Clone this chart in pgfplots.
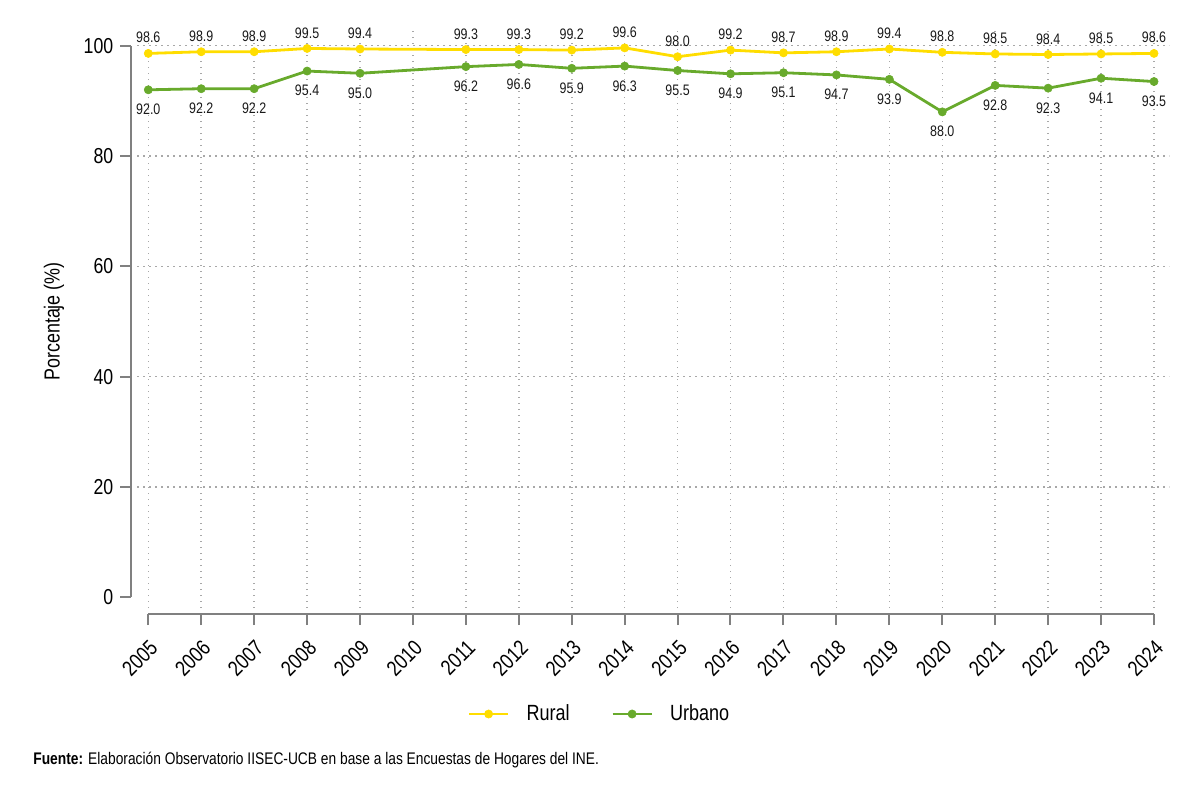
\documentclass[border=0pt]{standalone}
\usepackage{fontspec}
\setmainfont{Liberation Sans}[FakeStretch=0.82]
\usepackage{pgfplots}
\pgfplotsset{compat=1.18}

\definecolor{rural}{RGB}{255,221,0}
\definecolor{urbano}{RGB}{104,170,44}
\definecolor{axisgray}{RGB}{128,128,128}
\definecolor{gridgray}{RGB}{168,168,168}

\tikzset{gridline/.style={gridgray, line width=0.75bp, dash pattern=on 0.75bp off 2.25bp}}

\begin{document}
\begin{tikzpicture}
\path[use as bounding box] (0,0) rectangle (600bp,400.5bp);
\begin{axis}[
  at={(74.15bp,101.9bp)}, anchor=south west,
  scale only axis, width=502.85bp, height=275.75bp,
  xmin=2005, xmax=2024, ymin=0, ymax=100,
  clip=false,
  axis lines=left,
  axis line style={-, axisgray, line width=1bp},
  axis x line shift=8.5bp,
  axis y line shift=8.5bp,
  xtick={2005,...,2024},
  ytick={0,20,...,100},
  tick align=outside,
  major tick length=5.5bp,
  tick style={axisgray, line width=1bp},
  /pgf/number format/assume math mode=true,
  xticklabel shift=2bp,
  x tick label style={rotate=45, anchor=north east, font=\fontsize{10.8bp}{12bp}\selectfont,
    /pgf/number format/1000 sep={}},
  y tick label style={font=\fontsize{10.8bp}{12bp}\selectfont},
  ylabel={Porcentaje (\%)},
  every axis y label/.style={at={(axis description cs:-0.0938,0.5)}, rotate=90, anchor=center,
    font=\fontsize{10.9bp}{13bp}\selectfont},
  legend columns=2,
  legend style={at={(axis description cs:0.4476,-0.2118)}, anchor=center, draw=none, fill=none,
    inner sep=0pt, font=\fontsize{11bp}{13bp}\selectfont, nodes={inner sep=0pt},
    /tikz/every odd column/.style={column sep=8.5bp},
    /tikz/every even column/.style={column sep=20.8bp}},
  legend image code/.code={\draw[#1, mark repeat=2, mark phase=2]
    plot coordinates {(0bp,0bp) (9.75bp,0bp) (19.5bp,0bp)};},
  every axis plot/.append style={line width=1.4bp, mark=*, mark size=2.05bp,
    mark options={solid, line width=0.3bp}},
  nodes near coords={\pgfmathprintnumber[fixed,fixed zerofill,precision=1]{\pgfplotspointmeta}},
  every node near coord/.append style={font=\fontsize{7.6bp}{9bp}\selectfont, black!90, inner sep=0pt},
]
% dotted grid
\pgfplotsinvokeforeach{20,40,60,80,100}{
  \draw[gridline] (axis cs:2004.787,#1) -- (axis cs:2024.284,#1);
}
\pgfplotsinvokeforeach{2005,2006,2007,2008,2009,2010,2011,2012,2013,2014,2015,2016,2017,2018,2019,2020,2021,2022,2023,2024}{
  \draw[gridline] (axis cs:#1,-1.96) -- (axis cs:#1,103);
}

\addplot[color=rural, every node near coord/.append style={anchor=south, yshift=5bp}]
coordinates {
  (2005,98.6) (2006,98.9) (2007,98.9) (2008,99.5) (2009,99.4)
  (2011,99.3) (2012,99.3) (2013,99.2) (2014,99.6) (2015,98.0)
  (2016,99.2) (2017,98.7) (2018,98.9) (2019,99.4) (2020,98.8)
  (2021,98.5) (2022,98.4) (2023,98.5) (2024,98.6)
};
\addlegendentry{Rural}

\addplot[color=urbano, every node near coord/.append style={anchor=north, yshift=-7bp}]
coordinates {
  (2005,92.0) (2006,92.2) (2007,92.2) (2008,95.4) (2009,95.0)
  (2011,96.2) (2012,96.6) (2013,95.9) (2014,96.3) (2015,95.5)
  (2016,94.9) (2017,95.1) (2018,94.7) (2019,93.9) (2020,88.0)
  (2021,92.8) (2022,92.3) (2023,94.1) (2024,93.5)
};
\addlegendentry{Urbano}
\end{axis}

\node[anchor=base west, inner sep=0pt, font=\fontsize{8.4bp}{10bp}\selectfont]
  at (16.5bp,18.5bp) {\textbf{Fuente:} Elaboración Observatorio IISEC-UCB en base a las Encuestas de Hogares del INE.};
\end{tikzpicture}
\end{document}
